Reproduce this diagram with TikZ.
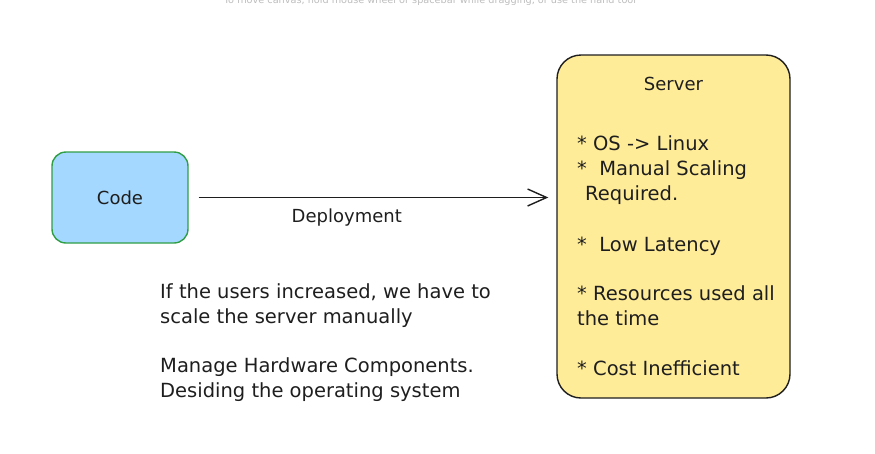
\documentclass[tikz,border=0pt]{standalone}
\usepackage{fontspec}
\setmainfont{DejaVu Sans}
\usetikzlibrary{positioning, arrows.meta}

\definecolor{codefill}{HTML}{A5D8FF}
\definecolor{codeline}{HTML}{2F9E44}
\definecolor{serverfill}{HTML}{FFEC99}
\definecolor{inkline}{HTML}{1E1E1E}
\definecolor{hintgray}{HTML}{BDBDBD}

\tikzset{
  codebox/.style={draw=codeline, fill=codefill, line width=1.4pt, rounded corners=14pt,
    minimum width=136pt, minimum height=91pt, font=\fontsize{18}{25}\selectfont, text=inkline},
  serverbox/.style={draw=inkline, fill=serverfill, line width=1.4pt, rounded corners=24pt,
    minimum width=233pt, minimum height=343pt},
  note/.style={font=\fontsize{19.5}{25}\selectfont, text=inkline, inner sep=0pt,
    anchor=base west, align=left},
  flow/.style={-{Straight Barb[length=19pt,width=17pt]}, line width=1.4pt, draw=inkline},
}

\begin{document}
\begin{tikzpicture}[x=1pt, y=-1pt]
    \useasboundingbox (0,0) rectangle (875,453);
    \clip (0,0) rectangle (875,453);

    \node[font=\fontsize{9.7}{12}\selectfont, text=hintgray, anchor=base] (hint) at (430,3)
        {To move canvas, hold mouse wheel or spacebar while dragging, or use the hand tool};

    \node[codebox] (code) at (120,197.5) {Code};
    \node[serverbox] (server) at (673.5,226.5) {};

    \draw[flow, shorten <=10pt, shorten >=8pt] (code) -- (server.west |- code)
        node[pos=0.43, below=7pt, font=\fontsize{18}{25}\selectfont, text=inkline] (deploy) {Deployment};

    % text inside the server box (base = last line)
    \node[note, anchor=base, font=\fontsize{18}{25}\selectfont] (title) at (server.center |- 0,90) {Server};
    \node[note] (os) at (577,200) {* OS -> Linux\\*~~Manual Scaling\\\hspace*{8pt}Required.};
    \node[note] (latency) at (577,251) {*~~Low Latency};
    \node[note] (res) at (577,325) {* Resources used all\\the time};
    \node[note] (cost) at (577,375) {* Cost Inefficient};

    % notes on the left
    \node[note] (users) at (160,323) {If the users increased, we have to\\scale the server manually};
    \node[note] (hw) at (160,397) {Manage Hardware Components.\\Desiding the operating system};

\end{tikzpicture}
\end{document}
